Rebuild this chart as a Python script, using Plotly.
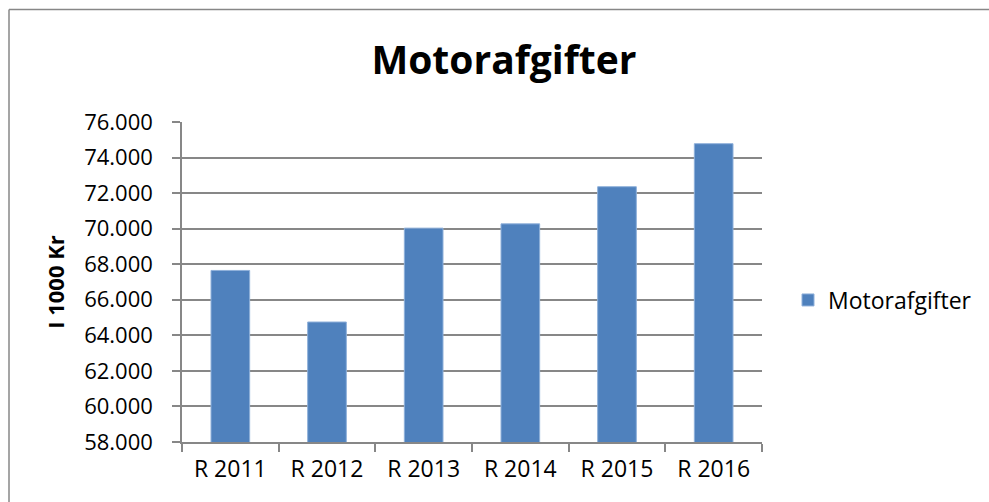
import plotly.graph_objects as go

categories = ["R 2011", "R 2012", "R 2013", "R 2014", "R 2015", "R 2016"]
values = [67650, 64750, 70030, 70270, 72360, 74780]
series_name = "Motorafgifter"
title_text = "Motorafgifter"
y_title = "I 1000 Kr"

FONT = "Open Sans"
GRID = "#878787"

W, H = 989, 502
L, T = 182, 122
PW, PH = 580, 320
R = W - L - PW
B = H - T - PH

fig = go.Figure()
fig.add_trace(go.Bar(
    x=categories, y=values, name=series_name,
    marker=dict(color="#4F81BD", line=dict(color="#8FB0DA", width=1)),
    showlegend=True,
))

fig.update_layout(
    width=W, height=H,
    margin=dict(l=L, r=R, t=T, b=B, autoexpand=False),
    paper_bgcolor="white", plot_bgcolor="white",
    separators=",.",
    bargap=0.6,
    font=dict(family=FONT, size=22, color="black"),
    title=dict(text="<b>" + title_text + "</b>", x=504 / W, xanchor="center",
               xref="container",
               y=1 - 60 / H, yanchor="middle", yref="container",
               font=dict(family=FONT, size=39, color="black")),
    showlegend=True,
    legend=dict(x=(788 - L) / PW, y=(442 - 300) / PH, xanchor="left", yanchor="middle",
                font=dict(family=FONT, size=23, color="black"),
                itemwidth=30, bgcolor="rgba(0,0,0,0)"),
    xaxis=dict(showline=True, linecolor=GRID, linewidth=1.5, ticks="outside",
               tickson="boundaries", ticklen=8, tickcolor=GRID, tickwidth=1.5,
               ticklabelstandoff=6,
               showgrid=False, tickfont=dict(family=FONT, size=23)),
    yaxis=dict(range=[58000, 76000], dtick=2000, tickformat=",d",
               showline=True, linecolor=GRID, linewidth=1.5,
               ticks="outside", ticklen=8, tickcolor=GRID, tickwidth=1.5,
               ticklabelstandoff=15,
               showgrid=True, gridcolor=GRID, gridwidth=1.5, zeroline=False,
               tickfont=dict(family=FONT, size=22),
               title=dict(text="<b>" + y_title + "</b>", standoff=13,
                          font=dict(family=FONT, size=22))),
    shapes=[
        dict(type="line", xref="paper", yref="paper",
             x0=(9 - L) / PW, x1=(9 - L) / PW, y0=-1, y1=(442 - 9.5) / PH,
             line=dict(color=GRID, width=1.5), layer="below"),
        dict(type="line", xref="paper", yref="paper",
             x0=(9 - L) / PW, x1=(W + 5 - L) / PW, y0=(442 - 9.5) / PH, y1=(442 - 9.5) / PH,
             line=dict(color=GRID, width=1.5), layer="below"),
    ],
)

fig.write_html(
    "out.html",
    config={"displayModeBar": False},
    post_script="document.body.style.margin='0';document.body.style.overflow='hidden';",
)
